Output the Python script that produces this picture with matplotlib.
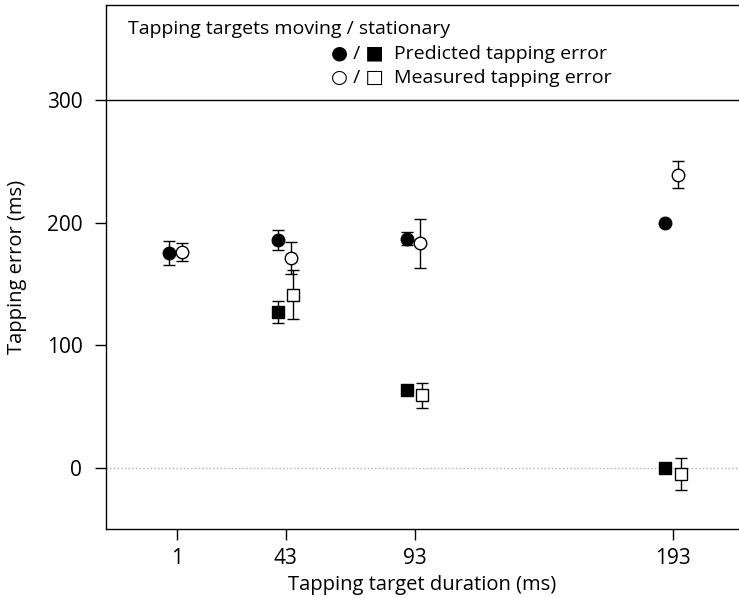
import numpy as np
import matplotlib
matplotlib.use('Agg')
from matplotlib import pyplot as plt

plt.rcParams['font.family'] = ['Open Sans', 'DejaVu Sans']

# target durations (ms)
durations = np.array([1, 43, 93, 193])

# tapping targets moving
pred_moving = np.array([175, 186, 187, 200])
pred_moving_err = np.array([10, 8, 5, 0])
meas_moving = np.array([176, 171, 183, 239])
meas_moving_err = np.array([7, 13, 20, 11])

# tapping targets stationary (no 1 ms condition)
pred_stat = np.array([np.nan, 127, 63, 0])
pred_stat_err = np.array([np.nan, 9, 3, 0])
meas_stat = np.array([np.nan, 141, 59, -5])
meas_stat_err = np.array([np.nan, 20, 10, 13])

tick_labels = ['1', '43', '93', '193']

fig = plt.figure(figsize=(7.39, 5.98), dpi=100)
ax = fig.add_axes([0.1434, 0.1154, 0.8566, 0.8762])

common = dict(color='black', ecolor='black', elinewidth=1, capsize=4,
              capthick=1, markersize=9, linestyle='none')

ax.errorbar(durations - 3, pred_moving, yerr=pred_moving_err, fmt='o',
            markerfacecolor='black', **common)
ax.errorbar(durations + 2, meas_moving, yerr=meas_moving_err, fmt='o',
            markerfacecolor='white', markeredgewidth=1, **common)
ax.errorbar(durations - 3, pred_stat, yerr=pred_stat_err, fmt='s',
            markerfacecolor='black', **common)
ax.errorbar(durations + 3, meas_stat, yerr=meas_stat_err, fmt='s',
            markerfacecolor='white', markeredgewidth=1, **common)

# zero line and the line closing the data area at 300 ms
ax.axhline(0, color='#b0b0b0', linestyle=':', linewidth=1, zorder=0)
ax.axhline(300, color='black', linewidth=1)

ax.set_xlim(-26.6, 218.6)
ax.set_ylim(-50, 377.5)
ax.set_xticks(durations)
ax.set_xticklabels(tick_labels, fontsize=15)
ax.set_yticks([0, 100, 200, 300])
ax.set_yticklabels(['0', '100', '200', '300'], fontsize=15)
ax.tick_params(axis='both', direction='out', length=8, width=1)
ax.tick_params(axis='y', pad=9)
ax.tick_params(axis='x', pad=6)
ax.spines['right'].set_visible(False)
for side in ['left', 'top', 'bottom']:
    ax.spines[side].set_linewidth(1)

ax.set_xlabel('Tapping target duration (ms)', fontsize=14.5, labelpad=4)
ax.set_ylabel('Tapping error (ms)', fontsize=14.5, labelpad=14)

# key written in the box above the data
ax.text(0.035, 0.955, 'Tapping targets moving / stationary', transform=ax.transAxes,
        fontsize=14, va='center', ha='left')
ax.text(0.355, 0.907, '\u25cf / \u25a0  Predicted tapping error', transform=ax.transAxes,
        fontsize=14, va='center', ha='left')
ax.text(0.355, 0.861, '\u25cb / \u25a1  Measured tapping error', transform=ax.transAxes,
        fontsize=14, va='center', ha='left')

fig.savefig('out.png', dpi=100)
